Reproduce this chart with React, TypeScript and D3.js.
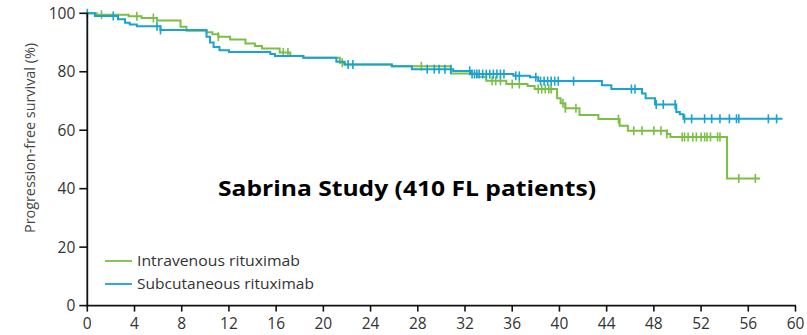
import React from "react";
import * as d3 from "d3";

// Kaplan–Meier step data: [month, survival % after this time]
const ivSteps: [number, number][] = [
  [0, 100], [0.8, 99.5], [3.5, 99.0], [4.6, 98.4], [5.9, 97.5], [7.9, 95.4], [8.4, 94.0],
  [10.1, 93.5], [10.6, 92.8], [11.1, 92.0], [12.1, 91.0], [13.4, 89.7], [14.2, 88.8],
  [14.8, 88.0], [16.3, 86.6], [17.2, 85.4], [18.3, 84.8], [21.4, 83.1], [21.8, 82.5],
  [25.8, 81.9], [30.8, 79.4], [33.0, 78.3], [33.8, 76.9], [35.5, 75.8], [37.3, 75.1],
  [37.9, 74.1], [39.8, 70.9], [40.1, 69.2], [40.5, 67.5], [41.7, 65.2], [43.3, 63.8],
  [45.1, 61.5], [45.8, 59.8], [49.1, 58.7], [49.4, 57.7], [54.2, 43.5]
];
const ivEnd = 57.0;
const ivCensors = [
  1.2, 4.2, 5.6, 11.1, 16.6, 17.0, 21.6, 28.3, 34.3, 34.6, 35.0, 36.0, 36.6, 38.2, 38.5,
  38.8, 39.1, 39.3, 40.3, 40.5, 41.4, 45.0, 46.3, 47.0, 48.0, 48.6, 49.1, 50.4, 50.6,
  50.9, 51.3, 51.6, 52.0, 52.3, 52.5, 52.8, 53.4, 53.6, 55.2, 56.6
];

const scSteps: [number, number][] = [
  [0, 100], [0.65, 99.1], [2.6, 98.0], [3.2, 96.8], [3.6, 96.2], [4.2, 95.6],
  [6.2, 94.3], [10.1, 92.0], [10.4, 90.0], [10.7, 88.5], [11.2, 87.4], [12.0, 86.8],
  [15.5, 86.1], [15.9, 85.4], [18.3, 84.8], [21.1, 83.4], [21.8, 82.5], [25.8, 81.9],
  [27.5, 80.9], [31.0, 80.3], [32.5, 79.2], [36.1, 78.6], [37.5, 78.1], [38.2, 76.8],
  [43.6, 75.4], [44.4, 74.1], [47.0, 72.6], [47.3, 70.9], [48.1, 68.8], [49.9, 66.2],
  [50.2, 65.5], [50.5, 63.9]
];
const scEnd = 58.9;
const scCensors = [
  0, 2.2, 5.9, 6.2, 22.1, 22.5, 28.8, 29.4, 29.8, 30.3, 30.8, 32.4, 32.6, 32.8, 33.0,
  33.2, 33.5, 33.8, 34.1, 34.4, 34.7, 35.0, 35.3, 36.3, 36.6, 38.0, 38.4, 38.7, 39.0,
  39.3, 39.6, 39.9, 41.2, 46.1, 46.4, 48.2, 48.8, 49.8, 50.6, 51.2, 52.3, 52.9, 53.6,
  54.4, 55.0, 55.2, 57.7, 58.4
];

const xTicks = d3.range(0, 61, 4);
const yTicks = [0, 20, 40, 60, 80, 100];
const seriesNames = ["Intravenous rituximab", "Subcutaneous rituximab"];
const title = "Sabrina Study (410 FL patients)";
const yLabel = "Progression-free survival (%)";

const GREEN = "#7BBF45";
const BLUE = "#1AA2D0";
const FONT = "'Open Sans', 'Noto Sans', sans-serif";

function survAt(steps: [number, number][], t: number) {
  let s = steps[0][1];
  for (const [tt, v] of steps) {
    if (tt <= t) s = v;
    else break;
  }
  return s;
}

export default function App() {
  const W = 807, H = 335;
  const x = d3.scaleLinear().domain([0, 60]).range([87.3, 795.5]);
  const y = d3.scaleLinear().domain([0, 100]).range([305.6, 13.3]);

  const line = d3
    .line<[number, number]>()
    .x((d) => x(d[0]))
    .y((d) => y(d[1]))
    .curve(d3.curveStepAfter);

  const series = [
    { steps: ivSteps, end: ivEnd, censors: ivCensors, color: GREEN },
    { steps: scSteps, end: scEnd, censors: scCensors, color: BLUE },
  ];
  const legendLens = [163, 177];

  return (
    <svg
      width={W}
      height={H}
      style={{ position: "absolute", left: 0, top: 0, display: "block", background: "#fff" }}
    >
      {series.map((s, i) => {
        const pts: [number, number][] = [...s.steps, [s.end, s.steps[s.steps.length - 1][1]]];
        return (
          <g key={i}>
            <path d={line(pts) || ""} fill="none" stroke={s.color} strokeWidth={2} />
            {s.censors.map((t, j) => {
              const yy = y(survAt(s.steps, t));
              return (
                <line
                  key={j}
                  x1={x(t)}
                  x2={x(t)}
                  y1={yy - 4.5}
                  y2={yy + 4.5}
                  stroke={s.color}
                  strokeWidth={1.6}
                />
              );
            })}
          </g>
        );
      })}

      {/* axes */}
      <line x1={x(0)} x2={x(0)} y1={y(100) - 0.5} y2={y(0)} stroke="#111" strokeWidth={1.8} />
      <line x1={x(0) - 1} x2={x(60) + 0.5} y1={y(0)} y2={y(0)} stroke="#111" strokeWidth={1.8} />
      {yTicks.map((t) => (
        <g key={t}>
          <line x1={x(0) - 8} x2={x(0)} y1={y(t)} y2={y(t)} stroke="#111" strokeWidth={1.6} />
          <text
            x={x(0) - 12}
            y={y(t)}
            dy="0.35em"
            textAnchor="end"
            fontFamily={FONT}
            fontSize={15.5}
            fill="#333"
          >
            {t}
          </text>
        </g>
      ))}
      {xTicks.map((t) => (
        <g key={t}>
          <line x1={x(t)} x2={x(t)} y1={y(0)} y2={y(0) + 6} stroke="#111" strokeWidth={1.6} />
          <text
            x={x(t)}
            y={y(0) + 23}
            textAnchor="middle"
            fontFamily={FONT}
            fontSize={15.5}
            fill="#333"
          >
            {t}
          </text>
        </g>
      ))}

      <text
        transform={`translate(35,${138}) rotate(-90)`}
        textAnchor="middle"
        fontFamily={FONT}
        fontSize={14}
        fill="#444"
        textLength={190}
        lengthAdjust="spacingAndGlyphs"
      >
        {yLabel}
      </text>

      <text
        x={407}
        y={196}
        textAnchor="middle"
        fontFamily={FONT}
        fontWeight="bold"
        fontSize={22}
        fill="#000"
        textLength={378}
        lengthAdjust="spacingAndGlyphs"
      >
        {title}
      </text>

      {/* legend */}
      {seriesNames.map((name, i) => (
        <g key={name} transform={`translate(0,${261 + i * 23})`}>
          <line x1={105} x2={132} y1={0} y2={0} stroke={i === 0 ? GREEN : BLUE} strokeWidth={1.8} />
          <text
            x={137}
            y={0}
            dy="0.35em"
            fontFamily={FONT}
            fontSize={15}
            fill="#333"
            textLength={legendLens[i]}
            lengthAdjust="spacingAndGlyphs"
          >
            {name}
          </text>
        </g>
      ))}
    </svg>
  );
}
